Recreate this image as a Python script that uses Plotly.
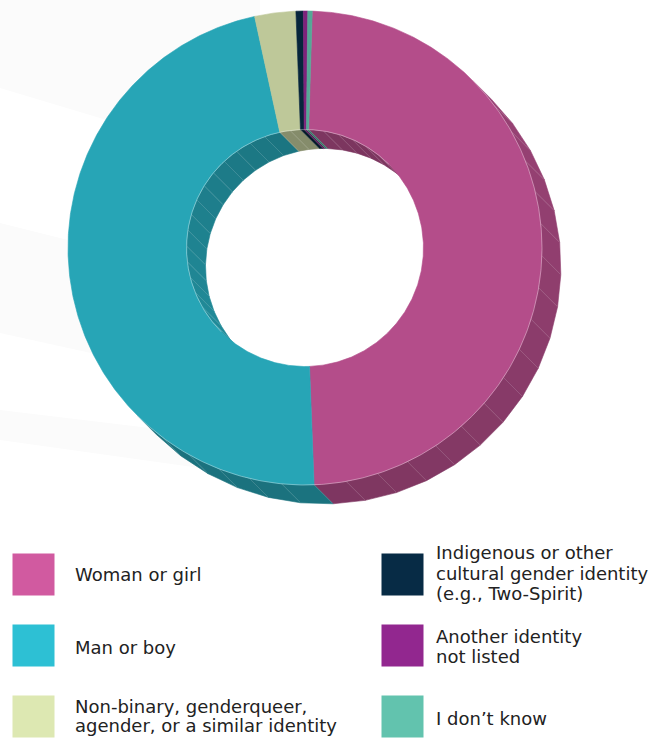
import math
import plotly.graph_objects as go

# ---------------- data ----------------
categories = [
    "Woman or girl",
    "Man or boy",
    "Non-binary, genderqueer, agender, or a similar identity",
    "Indigenous or other cultural gender identity (e.g., Two-Spirit)",
    "Another identity not listed",
    "I don’t know",
]
shares = [48.9, 47.2, 2.8, 0.5, 0.3, 0.3]
legend_lines = [
    ["Woman or girl"],
    ["Man or boy"],
    ["Non-binary, genderqueer,", "agender, or a similar identity"],
    ["Indigenous or other", "cultural gender identity", "(e.g., Two-Spirit)"],
    ["Another identity", "not listed"],
    ["I don’t know"],
]
colors = ["#D15AA0", "#2DC0D4", "#DDE8B2", "#072B45", "#92278F", "#62C3AE"]

# ---------------- geometry ----------------
W, H = 663, 738
CX, CY, R_PX = 305, 248, 237          # centre and outer radius of the front face (px)
HOLE = 0.5                            # inner radius / outer radius
DEPTH = (0.08, -0.08)                 # extrusion offset of the ring (radius units)
START = 1.76                          # first slice starts here, degrees clockwise from 12 o'clock
FACE_SHADE = 0.86
FACET_DEG = 8.0


def px2x(px):
    return (px - CX) / R_PX


def py2y(py):
    return (CY - py) / R_PX


def pt(r, a):
    t = math.radians(a)
    return r * math.sin(t), r * math.cos(t)


def shade(hex_color, f):
    h = hex_color.lstrip("#")
    r, g, b = (int(h[i:i + 2], 16) for i in (0, 2, 4))
    return "rgb({},{},{})".format(*(max(0, min(255, round(c * f))) for c in (r, g, b)))


def wall_factor(nx, ny):
    return 0.66 + 0.06 * ny + 0.03 * nx


def arc(r, a0, a1, step=0.5):
    n = max(2, int(abs(a1 - a0) / step) + 1)
    return [pt(r, a0 + (a1 - a0) * k / (n - 1)) for k in range(n)]


total = sum(shares)
bounds = []
acc = START
for s in shares:
    a0 = acc
    acc += 360.0 * s / total
    bounds.append((a0, acc))

fig = go.Figure()


def add_poly(points, fill, line_width=0.6):
    xs = [p[0] for p in points] + [points[0][0]]
    ys = [p[1] for p in points] + [points[0][1]]
    fig.add_trace(go.Scatter(
        x=xs, y=ys, mode="lines", fill="toself", fillcolor=fill,
        line=dict(color=fill, width=line_width),
        hoverinfo="skip", showlegend=False,
    ))


def facets(a0, a1, w0, w1):
    """Split the part of [a0, a1] that falls in window [w0, w1] (mod 360) into facets."""
    out = []
    for k in (-1, 0, 1):
        lo = max(a0, w0 + 360 * k)
        hi = min(a1, w1 + 360 * k)
        if hi - lo > 1e-6:
            n = max(1, math.ceil((hi - lo) / FACET_DEG))
            for j in range(n):
                out.append((lo + (hi - lo) * j / n, lo + (hi - lo) * (j + 1) / n))
    return out


dx, dy = DEPTH
seps_x, seps_y = [], []

# outer side wall (visible towards the lower right)
for (a0, a1), col in zip(bounds, colors):
    for b0, b1 in facets(a0, a1, 45, 225):
        m = math.radians((b0 + b1) / 2)
        f = wall_factor(math.sin(m), math.cos(m))
        p0, p1 = pt(1, b0), pt(1, b1)
        add_poly([p0, p1, (p1[0] + dx, p1[1] + dy), (p0[0] + dx, p0[1] + dy)], shade(col, f))
        if 46 < b0 < 224:
            seps_x += [p0[0], p0[0] + dx, None]
            seps_y += [p0[1], p0[1] + dy, None]

# inner side wall (visible through the hole, upper left)
for (a0, a1), col in zip(bounds, colors):
    for b0, b1 in facets(a0, a1, 225, 405):
        m = math.radians((b0 + b1) / 2)
        f = wall_factor(-math.sin(m), -math.cos(m))
        p0, p1 = pt(HOLE, b0), pt(HOLE, b1)
        add_poly([p0, p1, (p1[0] + dx, p1[1] + dy), (p0[0] + dx, p0[1] + dy)], shade(col, f))
        if 226 < (b0 if b0 >= 225 else b0 + 360) < 404:
            seps_x += [p0[0], p0[0] + dx, None]
            seps_y += [p0[1], p0[1] + dy, None]

fig.add_trace(go.Scatter(
    x=seps_x, y=seps_y, mode="lines",
    line=dict(color="rgba(255,255,255,0.2)", width=0.6),
    hoverinfo="skip", showlegend=False,
))

# front face of the ring
for (a0, a1), col, name in zip(bounds, colors, categories):
    pts = arc(1, a0, a1) + arc(HOLE, a1, a0)
    xs = [p[0] for p in pts] + [pts[0][0]]
    ys = [p[1] for p in pts] + [pts[0][1]]
    fig.add_trace(go.Scatter(
        x=xs, y=ys, mode="lines", fill="toself", fillcolor=shade(col, FACE_SHADE),
        line=dict(color=shade(col, FACE_SHADE), width=0.6),
        name=name, hoverinfo="name", showlegend=False,
    ))

# light rim where the face meets the walls
rim = arc(1, 45, 225)
rim_in = arc(HOLE, 225, 405)
fig.add_trace(go.Scatter(
    x=[p[0] for p in rim] + [None] + [p[0] for p in rim_in],
    y=[p[1] for p in rim] + [None] + [p[1] for p in rim_in],
    mode="lines", line=dict(color="rgba(255,255,255,0.35)", width=1),
    hoverinfo="skip", showlegend=False,
))

# ---------------- legend (two columns of swatches) ----------------
SW_X = [33.5, 402.5]
SW_Y = [574.5, 645.5, 716.5]
TXT_X = [74, 435]
BASELINES = [
    [581],
    [653.3],
    [712.7, 731.3],
    [558.3, 579.3, 600],
    [642.7, 662.7],
    [724.3],
]
FONT = "DejaVu Sans"
FS = 18

fig.add_trace(go.Scatter(
    x=[px2x(SW_X[i // 3]) for i in range(len(categories))],
    y=[py2y(SW_Y[i % 3]) for i in range(len(categories))],
    mode="markers",
    marker=dict(symbol="square", size=42, color=colors, line=dict(width=0)),
    text=categories, hoverinfo="text", showlegend=False,
))

annotations = []
for i, lines in enumerate(legend_lines):
    for line, base in zip(lines, BASELINES[i]):
        annotations.append(dict(
            x=px2x(TXT_X[i // 3]), y=py2y(base - 0.35 * FS),
            xref="x", yref="y", text=line, showarrow=False,
            xanchor="left", yanchor="middle", borderpad=0,
            font=dict(family=FONT, size=FS, color="#222222"),
        ))


# faint background swooshes
def band(points):
    d = "M " + " L ".join("{},{}".format(px2x(a), py2y(b)) for a, b in points) + " Z"
    return dict(type="path", path=d, xref="x", yref="y", layer="below",
                fillcolor="#FBFBFB", line=dict(width=0))


shapes = [
    band([(0, 0), (260, 0), (260, 166), (0, 88)]),
    band([(0, 223), (200, 273), (200, 377), (0, 333)]),
    band([(0, 410), (200, 434), (200, 468), (0, 440)]),
]

fig.update_layout(
    width=W, height=H, autosize=False,
    margin=dict(l=0, r=0, t=0, b=0),
    paper_bgcolor="white", plot_bgcolor="white",
    xaxis=dict(range=[px2x(0), px2x(W)], visible=False, fixedrange=True),
    yaxis=dict(range=[py2y(H), py2y(0)], visible=False, fixedrange=True),
    annotations=annotations,
    shapes=shapes,
    showlegend=False,
)

fig.write_html("out.html")
